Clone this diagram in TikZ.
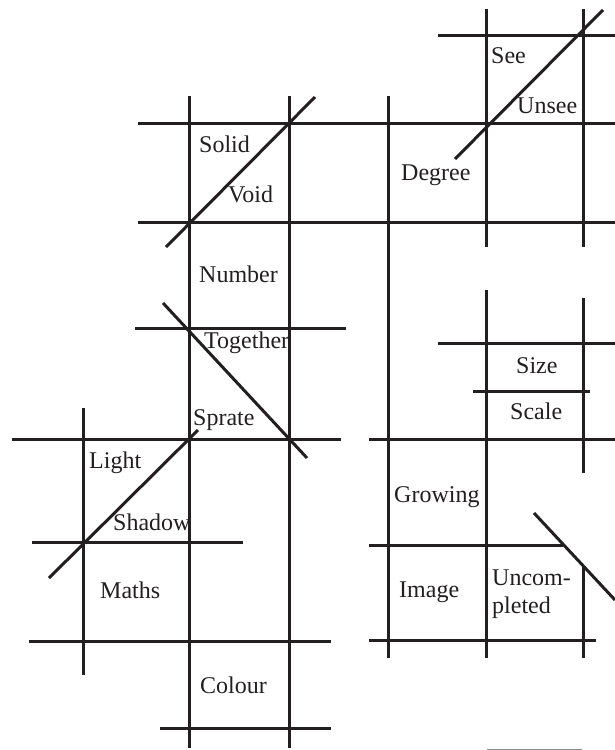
\documentclass[tikz,border=0pt]{standalone}
\usepackage{fontspec}
\setmainfont{Liberation Serif}
\usepackage{tikz}
\definecolor{ink}{HTML}{231F20}
\tikzstyle{bar} = [line width=3pt, draw=ink]
\tikzstyle{edge} = [line width=1pt, draw=black!45]
\tikzstyle{word} = [anchor=base west, inner sep=0pt, text=ink, font=\fontsize{24}{28}\selectfont]

\begin{document}
\begin{tikzpicture}[x=1pt, y=-1pt]
        \useasboundingbox (0,0) rectangle (615,750);

        % Vertical lines
        \draw [bar] (189,96) -- (189,748);
        \draw [bar] (289,96) -- (289,748);
        \draw [bar] (388,96) -- (388,658);
        \draw [bar] (486,9) -- (486,247);
        \draw [bar] (583,9) -- (583,247);
        \draw [bar] (83,408) -- (83,675);
        \draw [bar] (486,290) -- (486,658);
        \draw [bar] (583,298) -- (583,473);
        \draw [bar] (583,566) -- (583,658);

        % Horizontal lines
        \draw [bar] (438,35) -- (615,35);
        \draw [bar] (138,123) -- (615,123);
        \draw [bar] (138,222) -- (615,222);
        \draw [bar] (135,328) -- (346,328);
        \draw [bar] (438,343) -- (615,343);
        \draw [bar] (473,391) -- (590,391);
        \draw [bar] (12,439) -- (341,439);
        \draw [bar] (369,439) -- (615,439);
        \draw [bar] (32,542) -- (243,542);
        \draw [bar] (369,545) -- (563,545);
        \draw [bar] (29,641) -- (331,641);
        \draw [bar] (369,640) -- (596,640);
        \draw [bar] (160,728) -- (331,728);

        % Slanted lines
        \draw [bar] (166,247) -- (315,97);
        \draw [bar] (455,159) -- (603,10);
        \draw [bar] (163,303) -- (307,458);
        \draw [bar] (49,578) -- (198,430);
        \draw [bar] (534,513) -- (615,600);

        % Bottom rule
        \draw [edge] (487,749) -- (582,749);

        % Words
        \node (solid) [word] at (199,152) {Solid};
        \node (void) [word] at (228,202) {Void};
        \node (see) [word] at (491,63) {See};
        \node (unsee) [word] at (517,113) {Unsee};
        \node (degree) [word] at (401,180) {Degree};
        \node (number) [word] at (199,282) {Number};
        \node (together) [word] at (204,348) {Together};
        \node (sprate) [word] at (193,425) {Sprate};
        \node (light) [word] at (89,468) {Light};
        \node (shadow) [word] at (113,530) {Shadow};
        \node (maths) [word] at (100,598) {Maths};
        \node (colour) [word] at (200,693) {Colour};
        \node (size) [word] at (516,373) {Size};
        \node (scale) [word] at (510,419) {Scale};
        \node (growing) [word] at (394,502) {Growing};
        \node (image) [word] at (399,597) {Image};
        \node (uncom) [word] at (492,585) {Uncom-};
        \node (pleted) [word] at (492,613) {pleted};
    \end{tikzpicture}
\end{document}
